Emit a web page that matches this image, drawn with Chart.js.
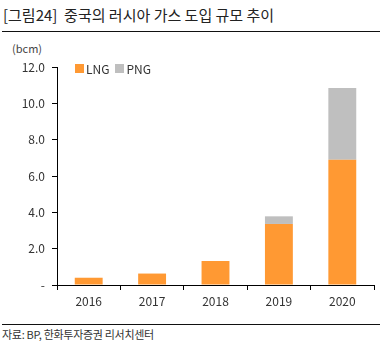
<!DOCTYPE html>
<html>
<head>
<meta charset="utf-8">
<script src="https://cdn.jsdelivr.net/npm/chart.js@4/dist/chart.umd.min.js"></script>
<style>
  html, body { margin:0; padding:0; background:#fff; }
  body { width:386px; height:349px; position:relative; overflow:hidden; font-family:'Noto Sans CJK KR','Noto Sans',sans-serif; color:#333; }
  .title { position:absolute; left:3px; top:4px; font-size:15px; color:#222; white-space:pre; letter-spacing:0px; }
  .rule { position:absolute; left:2px; width:378px; height:1px; background:#111; }
  .unit { position:absolute; left:12px; top:40px; font-size:11px; color:#444; }
  .legend { position:absolute; left:75px; top:60px; font-size:12px; color:#333; display:flex; gap:6px; }
  .legend span { display:flex; align-items:center; }
  .legend i { display:inline-block; width:9px; height:9px; margin-right:2px; }
  .src { position:absolute; left:2px; top:326px; font-size:11px; color:#333; letter-spacing:-0.3px; }
  #wrap { position:absolute; left:0; top:40px; width:386px; height:275px; }
</style>
</head>
<body>
<div class="title">[그림24]  중국의 러시아 가스 도입 규모 추이</div>
<div class="rule" style="top:31px"></div>
<div class="unit">(bcm)</div>
<div id="wrap"><canvas id="c"></canvas></div>
<div class="legend" id="legend"></div>
<div class="rule" style="top:324px"></div>
<div class="src">자료: BP, 한화투자증권 리서치센터</div>
<script>
// data
const years = ['2016', '2017', '2018', '2019', '2020'];
const lng = [0.4, 0.63, 1.32, 3.36, 6.9];
const png = [0, 0, 0, 0.42, 3.95];
const seriesNames = ['LNG', 'PNG'];
const seriesColors = ['#FF9933', '#BFBFBF'];

const legend = document.getElementById('legend');
legend.innerHTML = seriesNames.map((n, i) =>
  `<span><i style="background:${seriesColors[i]}"></i>${n}</span>`).join('');

const tickFont = { family: "'Noto Sans CJK KR', 'Noto Sans', sans-serif", size: 12 };

new Chart(document.getElementById('c'), {
  type: 'bar',
  data: {
    labels: years,
    datasets: [
      { label: seriesNames[0], data: lng, backgroundColor: seriesColors[0] },
      { label: seriesNames[1], data: png, backgroundColor: seriesColors[1] }
    ]
  },
  options: {
    responsive: true, maintainAspectRatio: false, animation: false,
    layout: { padding: { top: 27, right: 12, left: 0, bottom: 0 } },
    datasets: { bar: { categoryPercentage: 1, barPercentage: 0.44 } },
    plugins: { legend: { display: false }, tooltip: { enabled: false } },
    scales: {
      x: {
        stacked: true,
        grid: { drawOnChartArea: false, tickLength: 5, color: '#000' },
        border: { color: '#000', width: 1 },
        ticks: { color: '#333', font: tickFont, padding: 4 },
        afterFit: s => { s.height = 30; }
      },
      y: {
        stacked: true, min: 0, max: 12,
        grid: { drawOnChartArea: false, tickLength: 5, color: '#000' },
        border: { color: '#000', width: 1 },
        ticks: {
          stepSize: 2, color: '#333', font: tickFont, padding: 7,
          callback: v => v === 0 ? '-' : v.toFixed(1)
        },
        afterFit: s => { s.width = 57; }
      }
    }
  }
});
</script>
</body>
</html>
